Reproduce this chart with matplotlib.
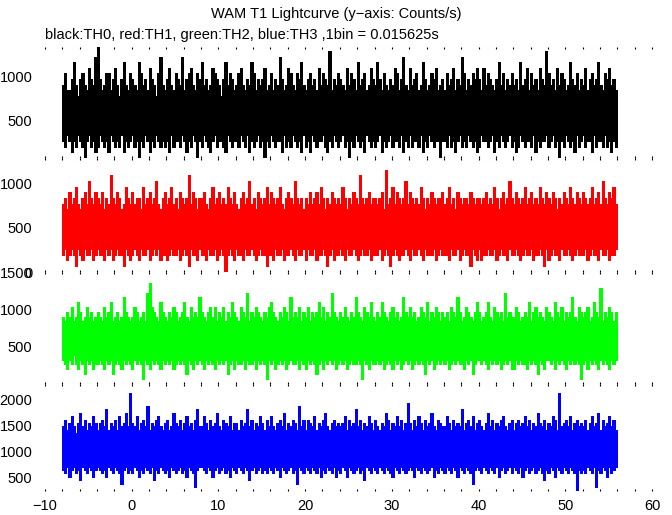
import numpy as np
import matplotlib
matplotlib.use("Agg")
import matplotlib.pyplot as plt

plt.rcParams['font.family'] = ['Liberation Sans', 'DejaVu Sans']

# ---------------- data ----------------
BIN_S = 0.015625              # seconds per original bin (from the subtitle)
COL_EDGES = np.arange(-8.0, 56.0001, 0.25)   # time columns (s)

# per-column maximum / minimum counts per bin (1 count/bin = 64 counts/s)
th0_hi = [14,16,13,13,15,18,14,12,15,16,14,13,17,15,14,19,
          21,15,13,14,16,16,13,15,17,14,12,15,18,14,13,16,
          15,14,13,18,16,14,15,13,17,15,14,12,16,19,14,13,
          15,17,14,13,16,15,14,19,13,15,16,17,14,13,16,15,
          18,14,15,13,14,17,16,15,14,12,15,18,14,16,15,13,
          14,16,17,14,13,15,14,18,16,13,15,14,15,17,13,14,
          16,13,15,14,19,15,13,14,17,16,14,13,16,15,18,14,
          13,15,16,14,15,13,17,14,16,15,14,20,13,15,14,16,
          15,14,13,17,14,16,15,13,18,14,15,16,13,14,17,15,
          14,18,15,13,16,14,13,15,14,17,16,13,15,19,14,13,
          17,14,15,16,13,14,18,15,13,14,16,15,17,13,14,15,
          13,16,14,15,17,13,15,14,19,16,13,15,14,16,15,17,
          15,13,17,14,16,15,14,13,15,18,14,16,13,15,14,16,
          14,15,13,18,14,15,17,13,16,14,15,13,17,15,14,20,
          16,14,15,13,17,14,16,15,13,14,18,15,14,16,13,15,
          14,17,13,15,16,14,15,18,14,13,16,15,17,14,15,13]
th0_lo = [4,3,5,4,2,4,3,5,4,3,1,4,5,3,4,2,
          3,5,4,3,4,2,5,4,3,4,3,5,2,4,3,4,
          5,3,4,1,4,3,5,4,2,4,3,5,4,3,4,3,
          4,2,5,3,4,4,3,5,4,2,4,3,5,4,1,4,
          3,5,4,3,2,4,5,3,4,4,3,2,5,4,3,4,
          4,3,5,4,3,5,2,4,3,4,5,3,4,1,4,3,
          5,4,3,4,4,2,5,3,4,3,5,4,3,4,2,5,
          3,4,2,5,4,3,4,4,5,3,2,4,3,5,4,3,
          4,5,3,4,1,4,3,5,4,3,4,2,5,4,3,4,
          3,4,5,2,4,3,4,5,3,4,4,3,5,2,4,3,
          5,3,4,4,3,5,2,4,3,5,4,3,4,4,1,4,
          4,3,5,3,4,2,4,5,3,4,3,5,4,3,4,2,
          3,5,4,4,3,4,5,2,4,3,5,4,3,4,5,3,
          4,2,3,5,4,3,4,4,3,5,2,4,3,4,4,5,
          3,4,5,3,4,1,4,3,5,4,3,4,2,5,3,4,
          5,3,4,4,2,5,3,4,4,3,5,3,4,2,4,3]

th1_hi = [12,13,11,14,12,13,15,12,11,13,14,12,16,13,12,14,
          13,12,14,11,13,12,17,13,12,14,13,11,12,15,13,12,
          14,12,13,13,11,15,12,13,14,12,13,16,12,11,13,14,
          12,13,15,12,13,11,14,13,12,13,17,12,14,13,11,13,
          13,14,12,11,13,15,12,13,14,12,13,12,15,13,12,14,
          12,11,13,14,12,13,16,12,13,11,14,13,12,13,15,12,
          14,13,12,13,15,12,11,13,14,13,12,16,13,12,13,11,
          13,12,14,12,13,14,12,15,13,11,13,12,14,13,12,13,
          12,15,13,11,13,12,14,13,12,17,13,12,13,14,12,13,
          13,12,13,14,11,18,12,13,15,12,14,13,12,13,16,12,
          14,13,12,13,12,15,13,11,13,12,14,13,12,13,13,14,
          12,13,15,12,13,11,14,13,12,13,13,12,14,13,12,13,
          13,12,13,14,12,13,12,15,13,11,13,14,12,13,16,13,
          12,14,13,12,13,15,12,13,14,12,13,12,15,13,12,14,
          13,12,14,13,11,13,12,14,13,12,15,13,12,14,13,12,
          14,13,12,13,15,12,13,14,12,16,13,12,14,13,15,12]
th1_lo = [3,4,2,3,4,3,1,4,3,2,4,3,3,4,2,3,
          4,3,3,2,4,3,4,2,3,4,3,3,1,4,3,2,
          3,4,3,2,4,3,3,4,2,3,4,3,4,2,3,3,
          2,3,4,3,3,4,2,3,4,3,1,4,3,3,2,4,
          3,3,2,4,3,3,4,2,3,4,3,0,3,4,3,2,
          4,3,3,2,4,3,3,4,3,2,3,4,3,3,1,3,
          3,2,4,3,3,4,2,3,3,4,3,2,4,3,3,4,
          2,4,3,3,4,2,3,3,4,3,1,3,4,2,3,3,
          4,3,2,4,3,3,4,3,2,3,4,3,3,4,2,3,
          3,3,4,2,3,4,3,1,3,4,3,2,3,3,4,3,
          2,4,3,3,4,3,2,4,3,3,3,4,2,3,4,3,
          3,3,2,4,3,3,4,2,3,4,3,3,1,4,3,2,
          4,2,3,3,4,3,3,4,2,3,4,3,3,2,4,3,
          3,4,3,2,3,4,3,3,4,2,3,3,4,3,1,4,
          2,3,4,3,3,2,4,3,3,4,3,2,3,4,3,3,
          3,4,2,3,4,3,3,2,4,3,3,4,2,3,3,4]

th2_hi = [14,13,15,14,16,13,14,17,15,13,14,16,14,15,13,14,
          15,14,13,16,14,15,17,13,14,15,13,14,18,15,14,13,
          14,16,15,13,14,15,13,19,21,16,15,14,13,17,15,14,
          13,15,14,16,15,13,14,15,17,14,13,16,14,15,14,18,
          15,14,13,15,16,14,16,13,15,14,16,13,15,14,17,15,
          14,13,16,15,14,19,13,15,14,16,15,14,13,15,14,16,
          17,15,14,13,15,14,16,15,13,18,14,15,14,16,13,15,
          14,16,13,15,14,15,17,14,16,13,15,14,19,15,14,13,
          15,14,16,14,13,15,14,18,15,14,13,16,15,14,17,14,
          13,15,14,17,15,14,13,15,16,14,15,13,14,18,15,14,
          16,14,15,13,14,16,15,14,17,13,15,14,16,15,13,15,
          14,15,13,16,15,14,18,15,13,14,16,15,14,13,15,17,
          15,13,14,15,17,14,13,16,15,14,15,13,19,14,15,14,
          14,16,15,13,14,15,14,17,13,15,16,14,15,14,13,16,
          15,14,13,17,15,14,16,13,15,14,15,18,14,13,16,15,
          14,15,16,13,14,17,15,14,20,13,15,14,16,15,13,15]
th2_lo = [5,4,3,5,4,6,4,3,5,4,2,5,4,5,3,4,
          4,5,4,3,5,4,5,2,4,5,4,3,5,4,5,4,
          3,5,4,5,4,1,5,4,3,5,4,5,4,3,5,4,
          5,4,5,3,4,5,4,5,4,2,5,4,3,5,4,5,
          4,3,5,4,5,4,3,5,4,5,4,5,2,4,5,3,
          5,4,4,5,3,5,4,4,5,3,5,4,5,4,1,5,
          4,5,3,4,5,4,5,3,4,5,4,4,5,3,5,4,
          3,5,4,5,4,2,4,5,3,5,4,5,4,5,3,4,
          5,4,5,3,4,5,4,4,5,4,1,5,4,3,5,4,
          4,5,4,5,3,4,5,4,3,5,4,5,3,4,5,4,
          5,3,4,5,4,5,4,2,5,4,5,3,4,5,4,5,
          4,5,3,4,5,4,5,4,4,3,5,4,5,2,4,5,
          5,4,5,4,3,5,4,5,4,5,3,4,5,4,5,3,
          3,5,4,5,4,4,3,5,4,5,4,2,5,4,3,5,
          5,4,5,3,5,4,5,4,3,5,4,5,4,5,4,1,
          4,5,3,5,4,5,4,3,5,4,5,4,3,5,4,5]

th3_hi = [23,25,22,24,26,23,21,24,27,23,25,22,24,23,26,24,
          22,24,25,23,28,22,24,23,25,22,26,23,24,27,23,33,
          24,23,26,22,24,25,23,29,22,24,23,25,26,23,22,24,
          25,22,23,27,24,23,25,22,24,26,23,24,22,25,28,23,
          23,26,24,22,25,23,24,27,23,22,25,24,23,26,22,24,
          24,22,25,23,24,28,23,25,22,24,23,26,24,22,25,23,
          26,23,22,24,25,23,27,22,24,23,25,24,22,29,23,25,
          22,25,24,23,26,22,24,23,25,27,23,22,24,25,23,24,
          23,24,26,22,25,23,24,28,23,25,22,24,23,26,24,22,
          25,23,22,24,23,27,25,22,24,23,26,23,25,22,24,30,
          24,22,25,23,26,24,22,25,23,24,27,23,22,25,24,23,
          23,26,24,22,25,23,24,23,28,22,24,25,23,26,22,24,
          25,23,22,24,27,23,25,22,24,23,25,26,23,22,24,25,
          22,24,25,23,24,26,23,25,22,24,23,27,24,23,25,22,
          24,23,26,25,22,33,23,24,25,23,26,22,24,25,23,24,
          23,25,22,24,26,23,24,27,22,25,23,24,26,23,25,22]
th3_lo = [10,9,11,8,10,11,9,10,7,11,10,9,11,10,8,10,
          11,10,9,10,8,11,10,9,11,10,9,6,10,11,9,10,
          9,11,10,8,10,9,11,10,9,11,7,10,9,11,10,9,
          10,8,11,10,9,10,11,9,10,8,11,10,9,5,10,11,
          11,10,9,11,10,8,10,11,9,10,11,9,10,8,11,10,
          9,11,10,9,11,10,7,10,11,9,10,11,9,10,9,11,
          10,9,11,10,8,11,10,9,10,11,9,10,6,11,10,9,
          11,10,9,11,10,9,11,8,10,9,11,10,9,11,8,10,
          9,11,10,8,11,10,9,10,11,9,10,7,11,10,9,11,
          10,9,11,10,9,11,10,9,8,11,10,9,11,10,9,10,
          11,10,8,11,10,9,11,10,9,10,11,8,10,9,11,10,
          9,11,10,9,11,10,8,11,10,9,11,10,9,6,10,11,
          10,9,11,10,9,11,10,9,11,8,10,11,9,10,11,9,
          11,10,9,11,8,10,11,9,10,11,9,10,11,9,7,10,
          9,11,10,8,11,10,9,11,10,9,11,10,9,4,10,9,
          10,9,11,10,9,11,5,10,9,11,10,8,11,9,10,11]

channels = ["TH0", "TH1", "TH2", "TH3"]
colors = ["black", "#ff0000", "#00ff00", "#0000ff"]
hi_counts = [th0_hi, th1_hi, th2_hi, th3_hi]
lo_counts = [th0_lo, th1_lo, th2_lo, th3_lo]
ylims = [(68, 1330), (0, 1290), (0, 1500), (253, 2285)]
yticks = [[500, 1000], [0, 500, 1000], [500, 1000, 1500], [500, 1000, 1500, 2000]]
xticks = [-10, 0, 10, 20, 30, 40, 50, 60]

title = "WAM T1 Lightcurve (y\u2212axis: Counts/s)"
subtitle = "black:TH0, red:TH1, green:TH2, blue:TH3 ,1bin = 0.015625s"

# ---------------- figure ----------------
W, H = 672, 515
fig = plt.figure(figsize=(W / 100, H / 100), dpi=100)

# panel boundaries in pixels (top, bottom)
bounds = [(47, 158), (158, 272), (272, 384), (384, 491)]
x0, x1 = 45, 652

for i, (top, bot) in enumerate(bounds):
    ax = fig.add_axes([x0 / W, 1 - bot / H, (x1 - x0) / W, (bot - top) / H])
    hi = np.array(hi_counts[i]) / BIN_S
    lo = np.array(lo_counts[i]) / BIN_S
    ax.stairs(hi, COL_EDGES, baseline=lo, fill=True, color=colors[i],
              linewidth=0, antialiased=False)
    ax.set_xlim(-10, 60)
    ax.set_ylim(*ylims[i])
    ax.set_facecolor("none")
    for s in ax.spines.values():
        s.set_visible(False)
    ax.set_yticks(yticks[i])
    ax.set_yticklabels([str(v) for v in yticks[i]])
    ax.set_xticks(xticks)
    ax.set_xticks(np.arange(-10, 61, 2), minor=True)
    ax.tick_params(axis='y', length=0, pad=9, labelsize=10.5)
    ax.tick_params(axis='x', which='both', direction='in', length=1.2, width=0.8,
                   top=True, bottom=True, labelsize=10.5, pad=6)
    if i < 3:
        ax.tick_params(axis='x', labelbottom=False)
    else:
        ax.set_xticklabels(["\u221210" if v < 0 else str(v) for v in xticks])

fig.text(336 / W, 1 - 14 / H, title, ha='center', va='center', fontsize=10.5)
fig.text(45 / W, 1 - 35 / H, subtitle, ha='left', va='center', fontsize=10.5)

fig.savefig("out.png", dpi=100)
